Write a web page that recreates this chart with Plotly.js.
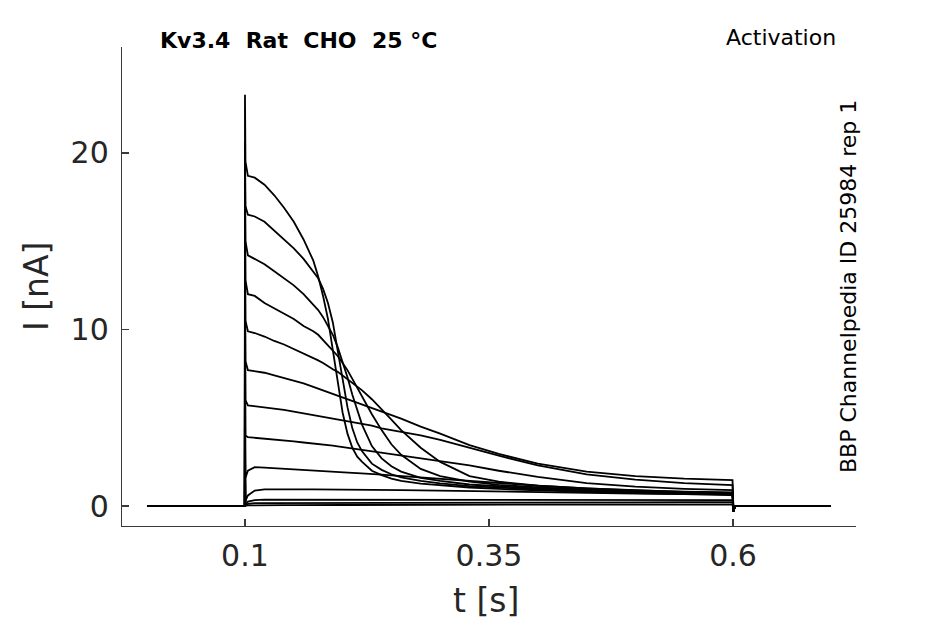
<!DOCTYPE html>
<html>
<head>
<meta charset="utf-8">
<script src="https://cdn.plot.ly/plotly-3.0.1.min.js"></script>
<style>
  body { margin: 0; background: #fff; }
  #chart { width: 945px; height: 624px; }
</style>
</head>
<body>
<div id="chart"></div>
<script>
// time samples [s] shared by every sweep
const tGrid = [0, 0.0998, 0.1, 0.1005, 0.103, 0.11, 0.12, 0.13, 0.14, 0.15, 0.16, 0.17, 0.175,
  0.18, 0.185, 0.19, 0.195, 0.2, 0.205, 0.21, 0.215, 0.22, 0.23, 0.24, 0.25, 0.26, 0.28, 0.3,
  0.33, 0.36, 0.4, 0.45, 0.5, 0.55, 0.5995, 0.6005, 0.602, 0.7];

// current [nA], one array per voltage step (largest first)
const sweep1 = [0, 0, 23.3, 19.5, 18.7, 18.6, 18.2, 17.6, 16.9, 16.1, 15.1, 13.9, 13.0,
  11.9, 10.6, 8.9, 7.0, 5.3, 4.1, 3.3, 2.8, 2.5, 2.0, 1.75, 1.55, 1.42, 1.27, 1.17,
  1.05, 0.97, 0.88, 0.8, 0.73, 0.67, 0.62, -0.3, 0, 0];
const sweep2 = [0, 0, 20.6, 17.0, 16.5, 16.4, 16.1, 15.6, 15.1, 14.6, 14.0, 13.3, 12.9,
  12.3, 11.5, 10.4, 8.9, 7.2, 5.6, 4.4, 3.6, 3.1, 2.4, 2.05, 1.8, 1.62, 1.42, 1.28,
  1.13, 1.03, 0.93, 0.84, 0.77, 0.7, 0.65, -0.3, 0, 0];
const sweep3 = [0, 0, 19.2, 15.0, 14.2, 14.0, 13.7, 13.3, 12.9, 12.5, 12.0, 11.4, 11.1,
  10.7, 10.2, 9.7, 9.0, 8.2, 7.3, 6.3, 5.4, 4.6, 3.4, 2.7, 2.25, 1.95, 1.6, 1.42,
  1.22, 1.1, 0.98, 0.88, 0.8, 0.74, 0.69, -0.3, 0, 0];
const sweep4 = [0, 0, 18.0, 12.8, 12.0, 11.9, 11.5, 11.2, 10.9, 10.6, 10.2, 9.9, 9.7,
  9.4, 9.1, 8.8, 8.5, 8.1, 7.7, 7.2, 6.7, 6.2, 5.2, 4.3, 3.5, 2.9, 2.1, 1.7,
  1.38, 1.2, 1.05, 0.93, 0.84, 0.77, 0.72, -0.3, 0, 0];
const sweep5 = [0, 0, 16.5, 10.5, 9.9, 9.8, 9.6, 9.35, 9.15, 8.9, 8.65, 8.4, 8.25,
  8.1, 7.9, 7.75, 7.6, 7.4, 7.2, 7.0, 6.8, 6.55, 6.05, 5.5, 4.9, 4.3, 3.3, 2.5,
  1.7, 1.38, 1.15, 1.0, 0.88, 0.82, 0.78, -0.3, 0, 0];
const sweep6 = [0, 0, 14.0, 8.2, 7.7, 7.65, 7.55, 7.4, 7.25, 7.1, 6.95, 6.75, 6.65,
  6.55, 6.45, 6.35, 6.25, 6.15, 6.05, 5.95, 5.85, 5.75, 5.55, 5.35, 5.15, 4.95, 4.5, 4.1,
  3.45, 2.95, 2.4, 1.95, 1.7, 1.55, 1.47, -0.3, 0, 0];
const sweep7 = [0, 0, 12.0, 6.0, 5.7, 5.65, 5.6, 5.55, 5.45, 5.35, 5.25, 5.15, 5.1,
  5.05, 5.0, 4.95, 4.9, 4.85, 4.8, 4.75, 4.7, 4.65, 4.55, 4.4, 4.3, 4.2, 4.0, 3.75,
  3.3, 2.85, 2.3, 1.8, 1.5, 1.3, 1.19, -0.3, 0, 0];
const sweep8 = [0, 0, 10.0, 4.0, 3.9, 3.87, 3.82, 3.77, 3.72, 3.66, 3.6, 3.55, 3.52,
  3.48, 3.45, 3.42, 3.38, 3.34, 3.3, 3.26, 3.22, 3.18, 3.1, 3.0, 2.92, 2.85, 2.7, 2.55,
  2.3, 2.0, 1.65, 1.3, 1.1, 0.97, 0.9, -0.3, 0, 0];
const sweep9 = [0, 0, 8.0, 1.6, 2.0, 2.2, 2.18, 2.15, 2.13, 2.1, 2.07, 2.03, 2.01,
  2.0, 1.98, 1.96, 1.94, 1.92, 1.9, 1.88, 1.86, 1.85, 1.82, 1.78, 1.74, 1.7, 1.62, 1.55,
  1.42, 1.3, 1.15, 1.0, 0.88, 0.8, 0.74, -0.3, 0, 0];
const sweep10 = [0, 0, 6.0, 0.3, 0.6, 0.88, 0.95, 0.96, 0.96, 0.95, 0.95, 0.94, 0.94,
  0.94, 0.93, 0.93, 0.93, 0.93, 0.92, 0.92, 0.92, 0.92, 0.91, 0.91, 0.9, 0.9, 0.89, 0.87,
  0.85, 0.82, 0.78, 0.74, 0.71, 0.68, 0.66, -0.3, 0, 0];
const sweep11 = [0, 0, 4.0, 0.1, 0.25, 0.34, 0.36, 0.36, 0.36, 0.36, 0.36, 0.36, 0.36,
  0.36, 0.36, 0.36, 0.36, 0.35, 0.35, 0.35, 0.35, 0.35, 0.35, 0.35, 0.35, 0.35, 0.35, 0.35,
  0.35, 0.35, 0.34, 0.34, 0.34, 0.34, 0.34, -0.3, 0, 0];
const sweep12 = [0, 0, 3.0, 0.05, 0.12, 0.16, 0.17, 0.17, 0.17, 0.18, 0.18, 0.18, 0.18,
  0.18, 0.18, 0.18, 0.18, 0.18, 0.18, 0.19, 0.19, 0.19, 0.19, 0.19, 0.19, 0.19, 0.19, 0.2,
  0.2, 0.2, 0.2, 0.21, 0.21, 0.22, 0.22, -0.3, 0, 0];
const sweep13 = [0, 0, 2.0, 0.02, 0.04, 0.05, 0.05, 0.05, 0.05, 0.05, 0.06, 0.06, 0.06,
  0.06, 0.06, 0.06, 0.06, 0.06, 0.06, 0.06, 0.06, 0.06, 0.07, 0.07, 0.07, 0.07, 0.07, 0.07,
  0.08, 0.08, 0.08, 0.08, 0.09, 0.09, 0.1, -0.3, 0, 0];

const sweeps = [sweep1, sweep2, sweep3, sweep4, sweep5, sweep6, sweep7,
  sweep8, sweep9, sweep10, sweep11, sweep12, sweep13];

const xTicks = [0.1, 0.35, 0.6];
const xTickText = ['0.1', '0.35', '0.6'];
const yTicks = [0, 10, 20];

const font = 'DejaVu Sans, sans-serif';
const axisColor = '#3a3a3a';

let data = [];
for (let i = 0; i < sweeps.length; i++) {
  data.push({
    x: tGrid, y: sweeps[i],
    mode: 'lines', type: 'scatter', name: 'sweep ' + (i + 1),
    line: {color: '#000000', width: 1.8}
  });
}

const axisCommon = {
  showline: true, linecolor: axisColor, linewidth: 1.2,
  ticks: 'inside', ticklen: 7, tickwidth: 1.2, tickcolor: axisColor,
  showgrid: false, zeroline: false,
  tickfont: {family: font, size: 30, color: '#262626'}
};

const layout = {
  width: 945, height: 624,
  margin: {l: 122, r: 89, t: 47, b: 98},
  paper_bgcolor: '#ffffff', plot_bgcolor: '#ffffff',
  showlegend: false,
  xaxis: Object.assign({}, axisCommon, {
    range: [-0.026, 0.726], tickvals: xTicks, ticktext: xTickText,
    ticklabelstandoff: 3
  }),
  yaxis: Object.assign({}, axisCommon, {
    range: [-1.13, 26.0], tickvals: yTicks,
    ticklabelstandoff: 6
  }),
  annotations: [
    {text: '<b>Kv3.4  Rat  CHO  25 °C</b>', xref: 'paper', yref: 'paper',
     x: 0.049, y: 1.0146, xanchor: 'left', yanchor: 'middle', showarrow: false,
     font: {family: font, size: 22, color: '#000000'}},
    {text: 'Activation', xref: 'paper', yref: 'paper',
     x: 0.9755, y: 1.0188, xanchor: 'right', yanchor: 'middle', showarrow: false,
     font: {family: font, size: 22, color: '#000000'}},
    {text: 'BBP Channelpedia ID 25984 rep 1', xref: 'paper', yref: 'paper',
     x: 0.9905, y: 0.499, xanchor: 'center', yanchor: 'middle', showarrow: false,
     textangle: -90, font: {family: font, size: 22, color: '#000000'}},
    {text: 't [s]', xref: 'paper', yref: 'paper',
     x: 0.496, y: -0.1545, xanchor: 'center', yanchor: 'middle', showarrow: false,
     font: {family: font, size: 33, color: '#262626'}},
    {text: 'I [nA]', xref: 'paper', yref: 'paper',
     x: -0.1158, y: 0.499, xanchor: 'center', yanchor: 'middle', showarrow: false,
     textangle: -90, font: {family: font, size: 33, color: '#262626'}}
  ]
};

Plotly.newPlot('chart', data, layout, {displayModeBar: false, staticPlot: true});
</script>
</body>
</html>
